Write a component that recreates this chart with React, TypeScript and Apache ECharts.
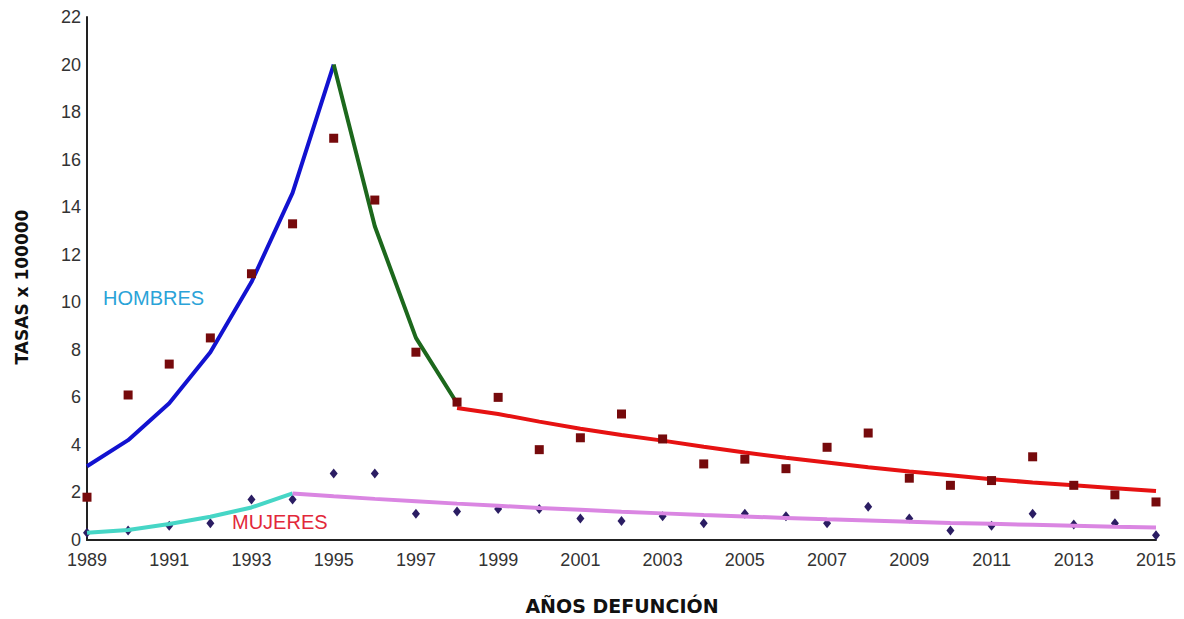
import React, { useEffect, useRef } from "react";
import * as echarts from "echarts";

const years: string[] = [
  "1989", "1990", "1991", "1992", "1993", "1994", "1995", "1996", "1997", "1998",
  "1999", "2000", "2001", "2002", "2003", "2004", "2005", "2006", "2007", "2008",
  "2009", "2010", "2011", "2012", "2013", "2014", "2015",
];

const yTicks: number[] = [0, 2, 4, 6, 8, 10, 12, 14, 16, 18, 20, 22];

// Observed rates (men: squares, women: diamonds), 1989–2015
const menRates: number[] = [
  1.8, 6.1, 7.4, 8.5, 11.2, 13.3, 16.9, 14.3, 7.9, 5.8, 6.0, 3.8, 4.3, 5.3,
  4.25, 3.2, 3.4, 3.0, 3.9, 4.5, 2.6, 2.3, 2.5, 3.5, 2.3, 1.9, 1.6,
];
const womenRates: number[] = [
  0.3, 0.4, 0.6, 0.7, 1.7, 1.7, 2.8, 2.8, 1.1, 1.2, 1.3, 1.3, 0.9, 0.8,
  1.0, 0.7, 1.1, 1.0, 0.7, 1.4, 0.9, 0.4, 0.6, 1.1, 0.65, 0.7, 0.2,
];

// Trend segments
const menRiseYears: string[] = ["1989", "1990", "1991", "1992", "1993", "1994", "1995"];
const menRise: number[] = [3.1, 4.2, 5.75, 7.9, 10.85, 14.6, 20.0];
const menFallYears: string[] = ["1995", "1996", "1997", "1998"];
const menFall: number[] = [20.0, 13.2, 8.5, 5.75];
const menTailYears: string[] = years.slice(9);
const menTail: number[] = [
  5.55, 5.3, 4.98, 4.68, 4.42, 4.18, 3.92, 3.68, 3.46, 3.26, 3.06, 2.88, 2.72,
  2.56, 2.42, 2.3, 2.18, 2.06,
];
const womenRiseYears: string[] = ["1989", "1990", "1991", "1992", "1993", "1994"];
const womenRise: number[] = [0.31, 0.42, 0.67, 0.98, 1.37, 1.96];
const womenTailYears: string[] = years.slice(5);
const womenTail: number[] = [
  1.96, 1.84, 1.73, 1.63, 1.53, 1.44, 1.35, 1.27, 1.19, 1.12, 1.05, 0.99,
  0.93, 0.87, 0.82, 0.77, 0.72, 0.68, 0.64, 0.6, 0.56, 0.53,
];

const pairs = (xs: string[], vs: number[]) => xs.map((x, i) => [x, vs[i]]);

const lineSeries = (name: string, xs: string[], vs: number[], color: string, z: number) => ({
  name,
  type: "line",
  data: pairs(xs, vs),
  showSymbol: false,
  symbol: "none",
  silent: true,
  z,
  lineStyle: { color, width: 4 },
});

export default function App() {
  const ref = useRef<HTMLDivElement>(null);

  useEffect(() => {
    document.body.style.margin = "0";
    if (!ref.current) return;
    const chart = echarts.init(ref.current, undefined, { renderer: "svg" });
    chart.setOption({
      animation: false,
      backgroundColor: "#ffffff",
      grid: { left: 87, right: 28, top: 17, bottom: 79, containLabel: false },
      xAxis: {
        type: "category",
        data: years,
        boundaryGap: false,
        axisLine: { show: true, lineStyle: { color: "#222", width: 2 } },
        axisTick: { show: false },
        axisLabel: {
          interval: 1,
          color: "#333",
          fontFamily: "Liberation Sans",
          fontSize: 18,
          margin: 11,
        },
        splitLine: { show: false },
      },
      yAxis: {
        type: "value",
        min: yTicks[0],
        max: yTicks[yTicks.length - 1],
        interval: 2,
        axisLine: { show: true, lineStyle: { color: "#222", width: 2 } },
        axisTick: { show: false },
        axisLabel: {
          color: "#333",
          fontFamily: "Liberation Sans",
          fontSize: 18,
          margin: 6,
        },
        splitLine: { show: false },
      },
      series: [
        {
          name: "Mujeres tasa",
          type: "scatter",
          data: pairs(years, womenRates),
          symbol: "diamond",
          symbolSize: [8, 10],
          itemStyle: { color: "#2b1d63", opacity: 1 },
          z: 2,
        },
        lineSeries("Hombres tendencia 1", menRiseYears, menRise, "#1212d0", 3),
        lineSeries("Hombres tendencia 2", menFallYears, menFall, "#1c681c", 3),
        lineSeries("Hombres tendencia 3", menTailYears, menTail, "#e61212", 3),
        lineSeries("Mujeres tendencia 1", womenRiseYears, womenRise, "#46d6c6", 3),
        lineSeries("Mujeres tendencia 2", womenTailYears, womenTail, "#da86e2", 3),
        {
          name: "Hombres tasa",
          type: "scatter",
          data: pairs(years, menRates),
          symbol: "rect",
          symbolSize: 9,
          itemStyle: { color: "#760a0c", opacity: 1 },
          z: 4,
        },
      ],
      graphic: [
        {
          type: "text",
          left: 103,
          top: 288,
          style: {
            text: "HOMBRES",
            fill: "#2aa3d8",
            font: '20px "Liberation Sans"',
          },
        },
        {
          type: "text",
          left: 232,
          top: 512,
          style: {
            text: "MUJERES",
            fill: "#e2283a",
            font: '20px "Liberation Sans"',
          },
        },
        {
          type: "text",
          x: 622,
          y: 606,
          style: {
            text: "AÑOS DEFUNCIÓN",
            fill: "#111",
            font: 'bold 19px "DejaVu Sans"',
            align: "center",
            verticalAlign: "middle",
          },
        },
        {
          type: "text",
          x: 22,
          y: 287,
          rotation: Math.PI / 2,
          style: {
            text: "TASAS x 100000",
            fill: "#111",
            font: 'bold 17px "DejaVu Sans"',
            align: "center",
            verticalAlign: "middle",
          },
        },
      ],
    });
    return () => chart.dispose();
  }, []);

  return <div ref={ref} style={{ width: 1184, height: 619 }} />;
}
